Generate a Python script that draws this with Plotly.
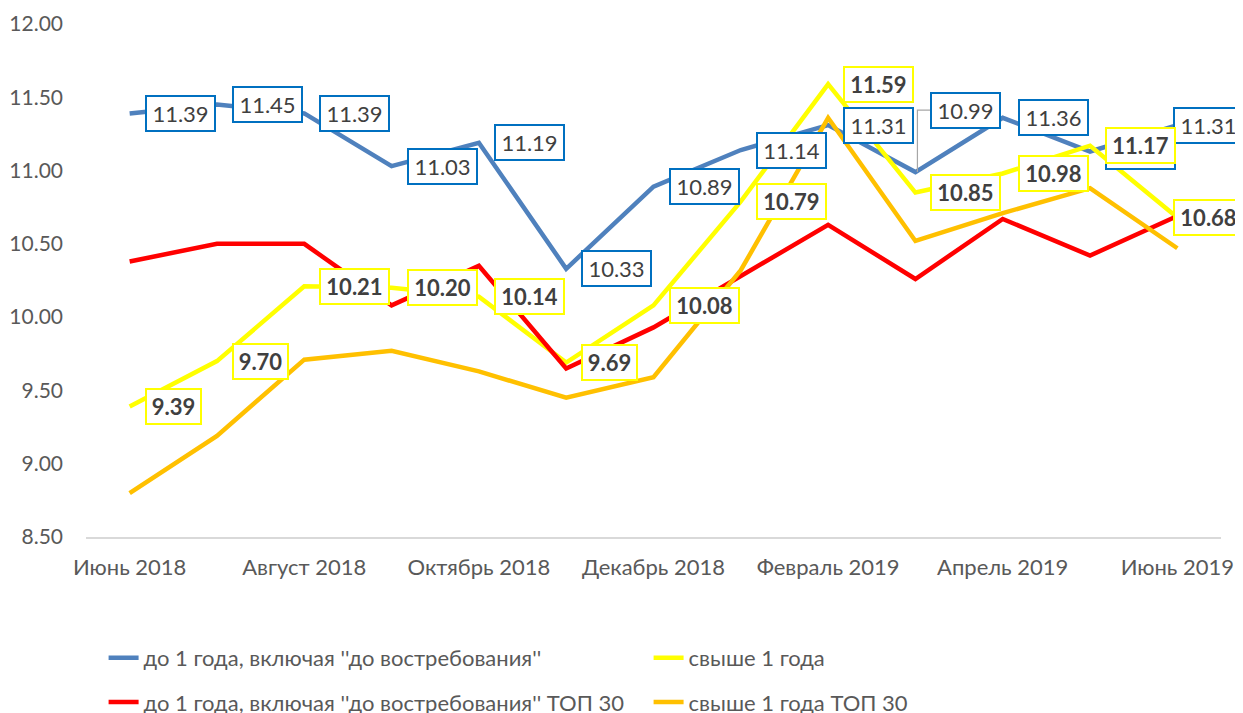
import plotly.graph_objects as go

months = ["Июнь 2018", "Июль 2018", "Август 2018", "Сентябрь 2018", "Октябрь 2018",
          "Ноябрь 2018", "Декабрь 2018", "Январь 2019", "Февраль 2019", "Март 2019",
          "Апрель 2019", "Май 2019", "Июнь 2019"]
tick_labels = ["Июнь 2018", "Август 2018", "Октябрь 2018", "Декабрь 2018",
               "Февраль 2019", "Апрель 2019", "Июнь 2019"]

series_names = ["до 1 года, включая ''до востребования''", "свыше 1 года",
                "до 1 года, включая ''до востребования'' ТОП 30", "свыше 1 года ТОП 30"]

blue_vals = [11.39, 11.45, 11.39, 11.03, 11.19, 10.33, 10.89, 11.14, 11.31, 10.99, 11.36, 11.13, 11.31]
yellow_vals = [9.39, 9.70, 10.21, 10.20, 10.14, 9.69, 10.08, 10.79, 11.59, 10.85, 10.98, 11.17, 10.68]
red_vals = [10.38, 10.50, 10.50, 10.08, 10.35, 9.65, 9.93, 10.28, 10.63, 10.26, 10.67, 10.42, 10.69]
orange_vals = [8.80, 9.19, 9.71, 9.77, 9.63, 9.45, 9.59, 10.32, 11.36, 10.52, 10.71, 10.88, 10.47]

FONT = "Lato"
TXT = "#404040"
AX = "#595959"

fig = go.Figure()
specs = [
    (blue_vals, series_names[0], "#4F81BD", "legend"),
    (yellow_vals, series_names[1], "#FFFF00", "legend"),
    (red_vals, series_names[2], "#FF0000", "legend2"),
    (orange_vals, series_names[3], "#FFC000", "legend2"),
]
for vals, name, color, leg in specs:
    fig.add_trace(go.Scatter(x=months, y=vals, name=name, mode="lines",
                             line=dict(color=color, width=4.5), legend=leg))

last = len(months) - 1


def label(m, v, text, border, **kw):
    n = len(f"{v:.2f}")
    fig.add_annotation(x=m, y=v, text=text, showarrow=False, xanchor="left",
                       yanchor="middle", bgcolor="white", bordercolor=border,
                       borderwidth=2, borderpad=5, width=14 * n - 13, height=23,
                       align="center", font=dict(family=FONT, size=22, color=TXT), **kw)


# data labels: blue series (normal weight, blue border)
for i, (m, v) in enumerate(zip(months, blue_vals)):
    kw = dict(xshift=15 if i != last else -4)
    if m == "Март 2019":
        kw = dict(xshift=15, yshift=62)
    label(m, v, f"{v:.2f}", "#0070C0", **kw)

# leader line for the moved label
fig.add_shape(type="path", xref="x", yref="y", xsizemode="pixel", ysizemode="pixel",
              xanchor=months[9], yanchor=blue_vals[9], path="M 2 0 L 2 62 L 15 62",
              line=dict(color="#A6A6A6", width=1.2))

# data labels: yellow series (bold, yellow border)
for i, (m, v) in enumerate(zip(months, yellow_vals)):
    label(m, v, f"<b>{v:.2f}</b>", "#FFFF00", xshift=15 if i != last else -4)

fig.update_layout(
    width=1235, height=705,
    margin=dict(l=78, r=22, t=16, b=176, autoexpand=False),
    plot_bgcolor="white", paper_bgcolor="white",
    font=dict(family=FONT, size=20, color=AX),
    showlegend=True,
    legend=dict(orientation="h", x=0.0155, xanchor="left", y=-0.236, yanchor="middle",
                entrywidth=500, entrywidthmode="pixels",
                font=dict(family=FONT, size=22, color=AX), bgcolor="rgba(0,0,0,0)"),
    legend2=dict(orientation="h", x=0.0155, xanchor="left", y=-0.322, yanchor="middle",
                 entrywidth=500, entrywidthmode="pixels",
                 font=dict(family=FONT, size=22, color=AX), bgcolor="rgba(0,0,0,0)"),
)
fig.update_xaxes(type="category", categoryorder="array", categoryarray=months,
                 tickmode="array", tickvals=tick_labels, ticktext=tick_labels,
                 showgrid=False, showline=True, linecolor="#D9D9D9", linewidth=2,
                 ticks="", ticklabelstandoff=10, tickfont=dict(size=22, color=AX),
                 range=[-0.5, 12.5], automargin=False)
fig.update_yaxes(range=[8.5, 12.0], dtick=0.5, tickformat=".2f", showgrid=False,
                 zeroline=False, showline=False, ticks="", ticklabelstandoff=22,
                 tickfont=dict(size=21, color=AX), automargin=False)

fig.write_html("out.html")
